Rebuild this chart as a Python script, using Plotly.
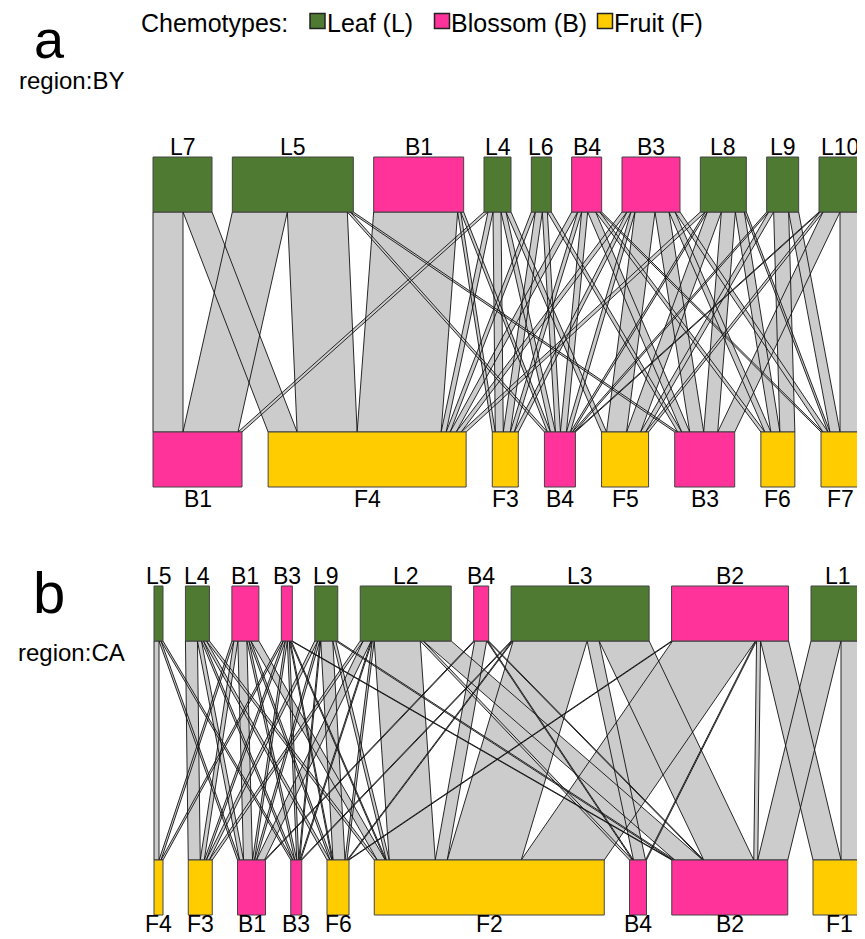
import plotly.graph_objects as go

# ---------------- data : panel a (region BY) ----------------
a_top_labels = ["L7", "L5", "B1", "L4", "L6", "B4", "B3", "L8", "L9", "L10"]
a_bottom_labels = ["B1", "F4", "F3", "B4", "F5", "B3", "F6", "F7"]
# link weights of every upper chemotype towards the lower chemotypes (order of a_bottom_labels)
a_L7 = [30, 29, 0, 0, 0, 0, 0, 0]
a_L5 = [55, 60, 0, 3, 0, 3, 0, 0]
a_B1 = [0, 84, 3, 3, 0, 0, 0, 0]
a_L4 = [4, 5, 8, 5, 5, 0, 0, 0]
a_L6 = [0, 4, 7, 5, 0, 4, 0, 0]
a_B4 = [0, 6, 4, 6, 0, 8, 4, 2]
a_B3 = [0, 5, 4, 4, 20, 14, 6, 5]
a_L8 = [0, 5, 0, 2, 14, 14, 9, 2]
a_L9 = [0, 0, 0, 2, 5, 0, 15, 10]
a_L10 = [0, 0, 0, 1, 3, 17, 0, 22]

# ---------------- data : panel b (region CA) ----------------
b_top_labels = ["L5", "L4", "B1", "B3", "L9", "L2", "B4", "L3", "B2", "L1"]
b_bottom_labels = ["F4", "F3", "B1", "B3", "F6", "F2", "B4", "B2", "F1"]
b_L5 = [5, 0, 2, 2, 0, 0, 0, 0, 0]
b_L4 = [0, 12, 4, 2, 3, 3, 0, 0, 0]
b_B1 = [2, 4, 9, 2, 2, 8, 0, 0, 0]
b_B3 = [2, 2, 2, 2, 1, 1, 0, 1, 0]
b_L9 = [0, 3, 2, 1, 12, 3, 0, 2, 0]
b_L2 = [0, 3, 8, 1, 2, 46, 3, 28, 0]
b_B4 = [0, 0, 1, 0, 0, 12, 1, 1, 0]
b_L3 = [0, 0, 0, 1, 1, 74, 12, 50, 0]
b_B2 = [0, 0, 0, 0, 1, 83, 1, 4, 28]
b_L1 = [0, 0, 0, 0, 0, 0, 0, 30, 24]

legend_labels = ["Leaf (L)", "Blossom (B)", "Fruit (F)"]
panel_letters = ["a", "b"]
panel_regions = ["region:BY", "region:CA"]

# ---------------- styling ----------------
FONT = "Liberation Sans, Arial, sans-serif"
COLORS = {"L": "#4E7A31", "B": "#FF3399", "F": "#FFCC00"}
LINK_FILL = "#CCCCCC"
W, H = 865, 939      # browser window
PAGE_MARGIN = 8      # default body margin of the html page

fig = go.Figure()
annotations = []


def add_panel(top_labels, bottom_labels, rows, x_start, x_end, y_top, y_bot, box_h):
    n_t, n_b = len(top_labels), len(bottom_labels)
    top_tot = [sum(r) for r in rows]
    bot_tot = [sum(rows[i][j] for i in range(n_t)) for j in range(n_b)]
    span = x_end - x_start
    gap_t = (span - sum(top_tot)) / (n_t - 1)
    gap_b = (span - sum(bot_tot)) / (n_b - 1)

    top_x, x = [], x_start
    for t in top_tot:
        top_x.append(x)
        x += t + gap_t
    bot_x, x = [], x_start
    for t in bot_tot:
        bot_x.append(x)
        x += t + gap_b

    top_off = [[0] * n_b for _ in range(n_t)]
    for i in range(n_t):
        c = top_x[i]
        for j in range(n_b):
            top_off[i][j] = c
            c += rows[i][j]
    bot_off = [[0] * n_b for _ in range(n_t)]
    for j in range(n_b):
        c = bot_x[j]
        for i in range(n_t):
            bot_off[i][j] = c
            c += rows[i][j]

    y1 = y_top + box_h
    y2 = y_bot
    lx, ly = [], []
    for i in range(n_t):
        for j in range(n_b):
            w = rows[i][j]
            if w <= 0:
                continue
            a0, a1 = top_off[i][j], top_off[i][j] + w
            b0, b1 = bot_off[i][j], bot_off[i][j] + w
            lx += [a0, a1, b1, b0, a0, None]
            ly += [y1, y1, y2, y2, y1, None]
    fig.add_trace(go.Scatter(x=lx, y=ly, mode="lines", fill="toself",
                             fillcolor=LINK_FILL,
                             line=dict(color="#111111", width=0.9),
                             hoverinfo="skip", showlegend=False))

    for key, col in COLORS.items():
        bx, by = [], []
        for lab, x0, t in zip(top_labels, top_x, top_tot):
            if lab[0] == key:
                bx += [x0, x0 + t, x0 + t, x0, x0, None]
                by += [y_top, y_top, y1, y1, y_top, None]
        for lab, x0, t in zip(bottom_labels, bot_x, bot_tot):
            if lab[0] == key:
                bx += [x0, x0 + t, x0 + t, x0, x0, None]
                by += [y_bot, y_bot, y_bot + box_h, y_bot + box_h, y_bot, None]
        if bx:
            fig.add_trace(go.Scatter(x=bx, y=by, mode="lines", fill="toself",
                                     fillcolor=col,
                                     line=dict(color="#444444", width=1),
                                     hoverinfo="skip", showlegend=False))

    for lab, x0, t in zip(top_labels, top_x, top_tot):
        cx = min(x0 + t / 2, W - 25)
        annotations.append(dict(x=cx, y=y_top + 4, text=lab, showarrow=False,
                                xanchor="center", yanchor="bottom", borderpad=0,
                                font=dict(size=23, color="black", family=FONT)))
    for lab, x0, t in zip(bottom_labels, bot_x, bot_tot):
        cx = min(x0 + t / 2, W - 25)
        ylab, anchor = y_bot + box_h - 2, "top"
        if ylab + 28 > H:          # keep the caption inside the page
            ylab, anchor = H - 1, "bottom"
        annotations.append(dict(x=cx, y=ylab, text=lab, showarrow=False,
                                xanchor="center", yanchor=anchor, borderpad=0,
                                font=dict(size=23, color="black", family=FONT)))


a_rows = [a_L7, a_L5, a_B1, a_L4, a_L6, a_B4, a_B3, a_L8, a_L9, a_L10]
b_rows = [b_L5, b_L4, b_B1, b_B3, b_L9, b_L2, b_B4, b_L3, b_B2, b_L1]

add_panel(a_top_labels, a_bottom_labels, a_rows, 153, 862, 157, 432, 55)
add_panel(b_top_labels, b_bottom_labels, b_rows, 154, 865, 586, 860, 55)

# panel letters: first one kept inside the page top
letter_pos = [(PAGE_MARGIN, "top"), (592, "middle")]
letter_size = [54, 58]
for letter, region, (yl, anc), fs, yr in zip(panel_letters, panel_regions, letter_pos,
                                             letter_size, [80, 652]):
    annotations.append(dict(x=49, y=yl, text=letter, showarrow=False,
                            xanchor="center", yanchor=anc, borderpad=0,
                            font=dict(size=fs, color="black", family=FONT)))
    annotations.append(dict(x=71, y=yr, text=region, showarrow=False,
                            xanchor="center", yanchor="middle", borderpad=0,
                            font=dict(size=24, color="black", family=FONT)))

annotations.append(dict(x=140, y=PAGE_MARGIN, text="Chemotypes:", showarrow=False,
                        xanchor="left", yanchor="top", borderpad=0,
                        font=dict(size=25, color="black", family=FONT)))
leg_x = [317.5, 442, 605]
fig.add_trace(go.Scatter(x=leg_x, y=[21, 21, 21], mode="markers",
                         marker=dict(symbol="square", size=15,
                                     color=[COLORS["L"], COLORS["B"], COLORS["F"]],
                                     line=dict(color="#222222", width=1.5)),
                         hoverinfo="skip", showlegend=False))
for lx_, lab in zip(leg_x, legend_labels):
    annotations.append(dict(x=lx_ + 8, y=PAGE_MARGIN, text=lab, showarrow=False,
                            xanchor="left", yanchor="top", borderpad=0,
                            font=dict(size=25, color="black", family=FONT)))

fig.update_layout(
    width=W - PAGE_MARGIN, height=H - PAGE_MARGIN,
    margin=dict(l=0, r=0, t=0, b=0),
    paper_bgcolor="white", plot_bgcolor="white",
    xaxis=dict(range=[PAGE_MARGIN, W], visible=False, fixedrange=True),
    yaxis=dict(range=[H, PAGE_MARGIN], visible=False, fixedrange=True),
    annotations=annotations,
    showlegend=False,
)

fig.write_html("out.html")
